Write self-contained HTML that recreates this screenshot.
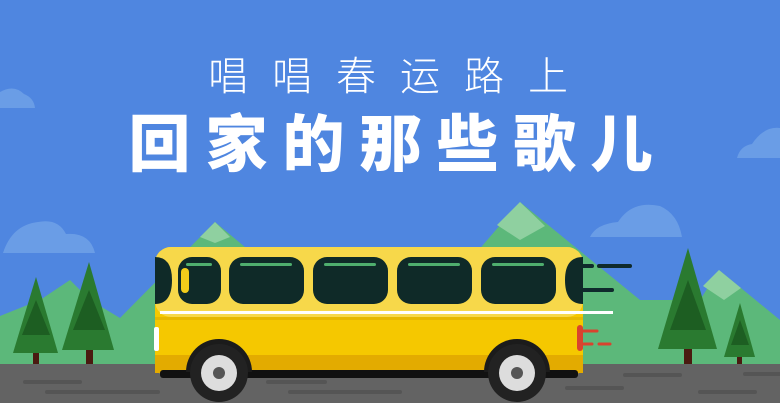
<!DOCTYPE html>
<html><head><meta charset="utf-8"><style>
html,body{margin:0;padding:0;width:780px;height:403px;overflow:hidden;background:#4f86e0}
svg{display:block}
</style></head><body>
<svg width="780" height="403" viewBox="0 0 780 403">
<rect x="0" y="0" width="780" height="403" fill="#4f86e0"/>
<g fill="#6a9de6">
 <path d="M0 108 L0 92 Q14 84 24 94 Q34 98 35 108 Z"/>
 <path d="M3 253 Q12 225 38 222 Q58 218 66 234 Q90 232 95 253 Z"/>
 <path d="M590 237 Q596 224 618 222 Q632 200 660 206 Q678 214 682 237 Z"/>
 <path d="M737 158 Q740 146 752 144 Q764 126 780 128 L780 158 Z"/>
</g>
<g>
 <polygon points="0,318 120,318 215,222 330,318 420,318 520,202 640,300 700,300 719,270 780,320 780,370 0,370" fill="#5cb87a"/>
 <polygon points="215,222 200,237 215,243 230,237" fill="#8fd0a0"/>
 <polygon points="520,202 497,225 520,240 545,226" fill="#8fd0a0"/>
 <polygon points="719,270 703,286 724,300 741,288" fill="#8fd0a0"/>
 <polygon points="0,316 40,300 70,280 90,300 120,318 0,318" fill="#5cb87a"/>
</g>
<rect x="0" y="364" width="780" height="39" fill="#636363"/>
<g stroke="#555" stroke-width="4" stroke-linecap="round">
 <line x1="25" y1="382" x2="80" y2="382"/><line x1="47" y1="392" x2="158" y2="392"/>
 <line x1="268" y1="382" x2="325" y2="382"/><line x1="290" y1="392" x2="400" y2="392"/>
 <line x1="625" y1="375" x2="680" y2="375"/><line x1="567" y1="388" x2="622" y2="388"/>
 <line x1="700" y1="392" x2="755" y2="392"/><line x1="745" y1="374" x2="780" y2="374"/>
</g>
<g>
 <rect x="33" y="350" width="6" height="14" fill="#4a1a10"/>
 <polygon points="36,277 13,353 58,353" fill="#2a7a30"/>
 <polygon points="36,300 22,335 50,335" fill="#1d5e22"/>
 <rect x="86" y="345" width="7" height="19" fill="#4a1a10"/>
 <polygon points="89,262 62,350 114,350" fill="#2a7a30"/>
 <polygon points="89,290 73,330 105,330" fill="#1d5e22"/>
 <rect x="684" y="345" width="8" height="19" fill="#4a1a10"/>
 <polygon points="688,248 658,349 717,349" fill="#2a7a30"/>
 <polygon points="688,280 670,330 706,330" fill="#1d5e22"/>
 <rect x="737" y="355" width="5" height="9" fill="#4a1a10"/>
 <polygon points="740,303 724,357 755,357" fill="#2a7a30"/>
 <polygon points="740,320 731,345 749,345" fill="#1d5e22"/>
</g>
<g>
 <g stroke="#0f2a2c" stroke-width="4" stroke-linecap="round">
  <line x1="583" y1="266" x2="592" y2="266"/><line x1="599" y1="266" x2="630" y2="266"/>
  <line x1="583" y1="290" x2="612" y2="290"/>
 </g>
 <g stroke="#d9432e" stroke-width="3" stroke-linecap="round">
  <line x1="583" y1="331" x2="597" y2="331"/><line x1="583" y1="344" x2="592" y2="344"/><line x1="599" y1="344" x2="610" y2="344"/>
 </g>
 <rect x="155" y="247" width="428" height="131" rx="16" fill="#f5c800"/>
 <rect x="155" y="247" width="428" height="70" rx="16" fill="#f7d84a"/>
 <rect x="155" y="317" width="428" height="3" fill="#e6b800"/>
 <rect x="155" y="355" width="428" height="18" fill="#e3ab00"/>
 <rect x="160" y="370" width="418" height="8" rx="3" fill="#111"/>
 <g fill="#0f2a28">
  <path d="M155 257 Q172 257 172 280 Q172 304 155 304 Z"/>
  <rect x="178" y="257" width="43" height="47" rx="14"/>
  <rect x="229" y="257" width="75" height="47" rx="14"/>
  <rect x="313" y="257" width="75" height="47" rx="14"/>
  <rect x="397" y="257" width="75" height="47" rx="14"/>
  <rect x="481" y="257" width="75" height="47" rx="14"/>
  <path d="M583 257 Q565 257 565 280 Q565 304 583 304 Z"/>
 </g>
 <g fill="#4fae6e"><rect x="186" y="263" width="26" height="3" rx="1.5"/><rect x="240" y="263" width="52" height="3" rx="1.5"/><rect x="324" y="263" width="52" height="3" rx="1.5"/><rect x="408" y="263" width="52" height="3" rx="1.5"/><rect x="492" y="263" width="52" height="3" rx="1.5"/></g>
 <rect x="181" y="268" width="8" height="25" rx="4" fill="#f2cd1a"/>
 <rect x="160" y="311" width="453" height="3" fill="#fff"/>
 <rect x="154" y="327" width="5" height="24" rx="2" fill="#fff"/>
 <rect x="577" y="325" width="6" height="26" rx="3" fill="#d9432e"/>
 <g>
  <path d="M186 372 A33 33 0 0 1 252 372 Z" fill="#1b1b1b"/>
  <circle cx="219" cy="373" r="29" fill="#222"/><circle cx="219" cy="373" r="18" fill="#ddd"/>
  <circle cx="219" cy="373" r="6" fill="#555"/>
 </g>
 <g>
  <path d="M484 372 A33 33 0 0 1 550 372 Z" fill="#1b1b1b"/>
  <circle cx="517" cy="373" r="29" fill="#222"/><circle cx="517" cy="373" r="18" fill="#ddd"/>
  <circle cx="517" cy="373" r="6" fill="#555"/>
 </g>
</g>
<text x="400" y="90" text-anchor="middle" fill="#fff" font-family="'Liberation Sans','Noto Sans CJK SC',sans-serif" font-size="40" font-weight="300" letter-spacing="24">唱唱春运路上</text>
<text x="398" y="166" text-anchor="middle" fill="#fff" font-family="'Liberation Sans','Noto Sans CJK SC',sans-serif" font-size="62" font-weight="900" letter-spacing="15">回家的那些歌儿</text>
</svg>
</body></html>
